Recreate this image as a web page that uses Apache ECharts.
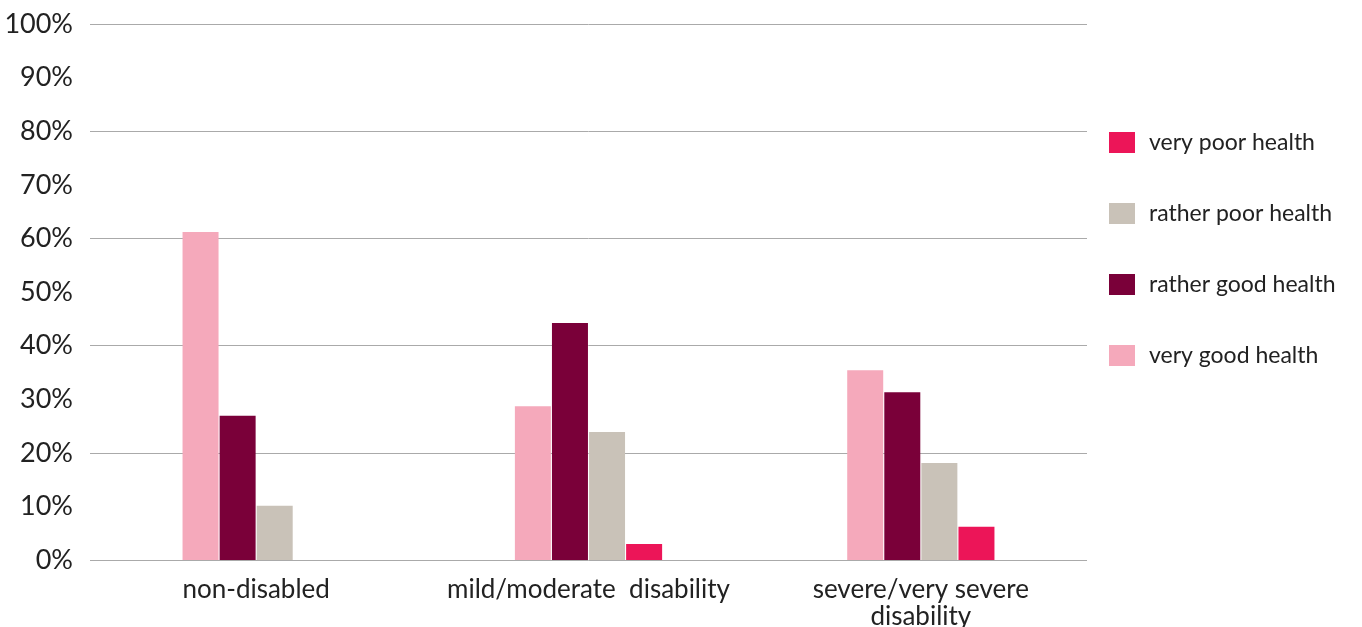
<!DOCTYPE html>
<html><head><meta charset="utf-8">
<script src="https://cdn.jsdelivr.net/npm/echarts@6/dist/echarts.min.js"></script>
<style>html,body{margin:0;padding:0;background:#fff}#c{width:1362px;height:627px}</style>
</head><body><div id="c"></div>
<script>
const categories = ['non-disabled', 'mild/moderate  disability', 'severe/very severe\ndisability'];
const veryGood = [61.2, 28.7, 35.4];
const ratherGood = [26.9, 44.2, 31.3];
const ratherPoor = [10.1, 23.9, 18.1];
const veryPoor = [0, 3.0, 6.2];
const legendOrder = ['very poor health', 'rather poor health', 'rather good health', 'very good health'];

const FONT = 'Lato';
const chart = echarts.init(document.getElementById('c'));
const mk = (name, data, color) => ({
  name, type: 'bar', data, yAxisIndex: 0, barWidth: 36, barGap: '3%',
  itemStyle: { color }
});
chart.setOption({
  animation: false,
  textStyle: { fontFamily: FONT },
  grid: { left: 90, right: 275, top: 24, bottom: 67, outerBoundsMode: 'none', containLabel: false },
  legend: {
    orient: 'vertical', left: 1104, top: 126,
    itemWidth: 26, itemHeight: 21, itemGap: 48,
    icon: 'rect',
    data: legendOrder,
    textStyle: { fontFamily: FONT, fontSize: 23, color: '#222', padding: [0, 0, 0, 9] }
  },
  xAxis: {
    type: 'category', data: categories,
    axisLine: { show: false }, axisTick: { show: false },
    axisLabel: { fontFamily: FONT, fontSize: 26, color: '#222', margin: 16, lineHeight: 27, interval: 0 }
  },
  yAxis: [
    {
      type: 'value', min: 0, max: 100, interval: 10,
      axisLabel: { formatter: '{value}%', fontFamily: FONT, fontSize: 27, color: '#222', margin: 17 },
      splitLine: { show: false }, axisLine: { show: false }, axisTick: { show: false }
    },
    {
      type: 'value', min: 0, max: 100, interval: 20, position: 'left',
      axisLabel: { show: false },
      splitLine: { show: true, lineStyle: { color: '#aaaaaa', width: 1 } },
      axisLine: { show: false }, axisTick: { show: false }
    }
  ],
  series: [
    mk('very good health', veryGood, '#f5a9bb'),
    mk('rather good health', ratherGood, '#7a0039'),
    mk('rather poor health', ratherPoor, '#c9c2b8'),
    mk('very poor health', veryPoor, '#ec1558')
  ]
});
</script></body></html>
